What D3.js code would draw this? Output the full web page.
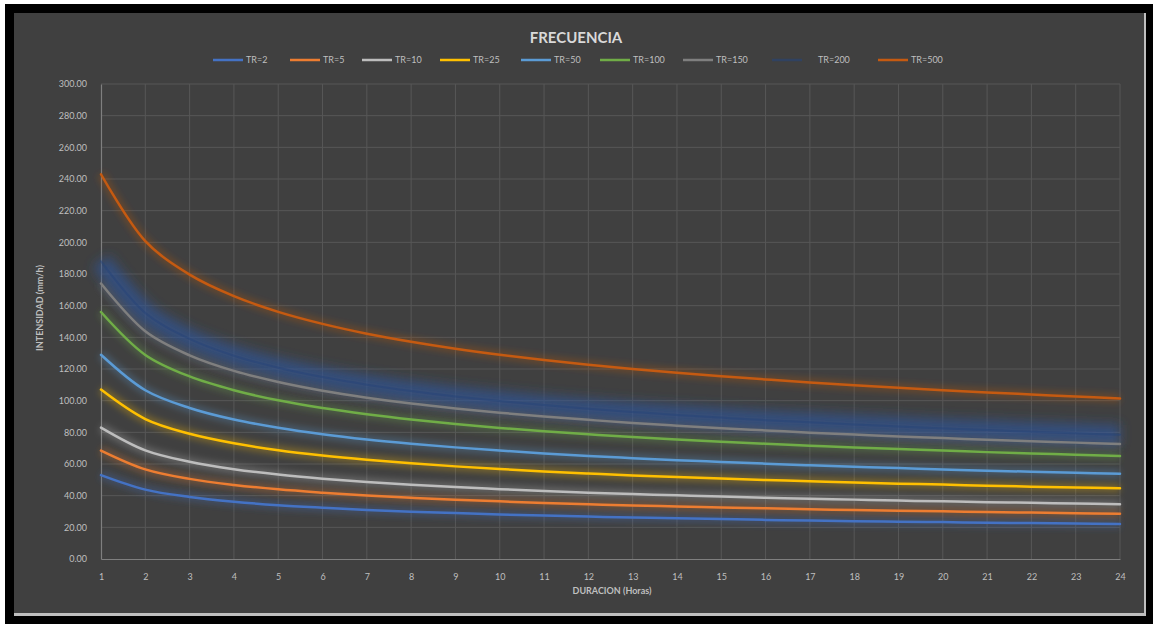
<!DOCTYPE html>
<html>
<head>
<meta charset="utf-8">
<script src="https://cdn.jsdelivr.net/npm/d3@7"></script>
<style>
  html, body { margin: 0; padding: 0; background: #ffffff; }
  svg { display: block; }
</style>
</head>
<body>
<script>
// Duration in hours (x axis)
const durations = [1,2,3,4,5,6,7,8,9,10,11,12,13,14,15,16,17,18,19,20,21,22,23,24];

// Intensity (mm/h) for each return period
const tr2   = [53.0,43.8,39.2,36.2,34.0,32.4,31.0,29.9,29.0,28.1,27.4,26.8,26.2,25.7,25.2,24.7,24.3,23.9,23.6,23.3,22.9,22.7,22.4,22.1];
const tr5   = [68.5,56.6,50.6,46.8,44.0,41.9,40.1,38.7,37.4,36.4,35.4,34.6,33.8,33.2,32.5,32.0,31.4,30.9,30.5,30.1,29.7,29.3,28.9,28.6];
const tr10  = [83.0,68.6,61.4,56.7,53.3,50.7,48.6,46.9,45.4,44.1,42.9,41.9,41.0,40.2,39.4,38.7,38.1,37.5,36.9,36.4,35.9,35.5,35.0,34.6];
const tr25  = [107.0,88.4,79.1,73.1,68.7,65.4,62.7,60.4,58.5,56.8,55.3,54.0,52.8,51.8,50.8,49.9,49.1,48.3,47.6,47.0,46.3,45.7,45.2,44.7];
const tr50  = [129.0,106.6,95.4,88.1,82.9,78.8,75.5,72.8,70.5,68.5,66.7,65.1,63.7,62.4,61.3,60.2,59.2,58.3,57.4,56.6,55.8,55.1,54.5,53.8];
const tr100 = [156.0,128.9,115.3,106.6,100.2,95.3,91.4,88.1,85.3,82.8,80.7,78.8,77.0,75.5,74.1,72.8,71.6,70.4,69.4,68.5,67.5,66.7,65.9,65.1];
const tr150 = [174.0,143.8,128.6,118.8,111.8,106.3,101.9,98.2,95.1,92.4,90.0,87.9,85.9,84.2,82.6,81.2,79.8,78.6,77.4,76.4,75.3,74.4,73.5,72.6];
const tr200 = [188.0,155.4,139.0,128.4,120.8,114.9,110.1,106.1,102.7,99.8,97.2,94.9,92.9,91.0,89.3,87.7,86.3,84.9,83.7,82.5,81.4,80.4,79.4,78.5];
const tr500 = [243.0,200.8,179.6,166.0,156.1,148.5,142.3,137.2,132.8,129.0,125.7,122.7,120.0,117.6,115.4,113.4,111.5,109.7,108.1,106.6,105.2,103.9,102.6,101.4];

const seriesNames = ["TR=2","TR=5","TR=10","TR=25","TR=50","TR=100","TR=150","TR=200","TR=500"];
const seriesValues = [tr2, tr5, tr10, tr25, tr50, tr100, tr150, tr200, tr500];
const seriesColors = ["#4472C4","#ED7D31","#BDBDBD","#FFC000","#5B9BD5","#70AD47","#7f7f7f","#264478","#C55A11"];

const yTicks = [0,20,40,60,80,100,120,140,160,180,200,220,240,260,280,300];

const W = 1153, H = 624;
const svg = d3.select("body").append("svg").attr("width", W).attr("height", H);

const defs = svg.append("defs");
defs.append("filter").attr("id", "glow").attr("x", "-5%").attr("y", "-20%").attr("width", "110%").attr("height", "140%")
  .append("feGaussianBlur").attr("stdDeviation", 3);
defs.append("filter").attr("id", "glowWide").attr("x", "-5%").attr("y", "-30%").attr("width", "110%").attr("height", "160%")
  .append("feGaussianBlur").attr("stdDeviation", 6);

// Frame: black border with a grey chart panel inside
svg.append("rect").attr("x", 5).attr("y", 4).attr("width", W - 5).attr("height", H - 4).attr("fill", "#000");
svg.append("rect").attr("x", 14).attr("y", 13).attr("width", 1132).attr("height", 603).attr("fill", "#bfbfbf");
svg.append("rect").attr("x", 14).attr("y", 13).attr("width", 1130).attr("height", 600).attr("fill", "#404040");

const font = "Lato, 'Open Sans', 'DejaVu Sans', sans-serif";

const x = d3.scaleLinear().domain([1, 24]).range([101, 1120]);
const y = d3.scaleLinear().domain([0, 300]).range([559, 84]);

// Gridlines
const grid = svg.append("g");
grid.selectAll("line.h").data(yTicks.slice(1)).join("line")
  .attr("x1", x(1)).attr("x2", x(24))
  .attr("y1", d => y(d)).attr("y2", d => y(d))
  .attr("stroke", "#575757").attr("stroke-width", 1);
grid.selectAll("line.v").data(durations.slice(1)).join("line")
  .attr("x1", d => x(d)).attr("x2", d => x(d))
  .attr("y1", y(300)).attr("y2", y(0))
  .attr("stroke", "#575757").attr("stroke-width", 1);

// Axes
const yAxis = d3.axisLeft(y).tickValues(yTicks).tickFormat(d => d.toFixed(2)).tickSize(0).tickPadding(14);
const gy = svg.append("g").attr("transform", `translate(${x(1)},0)`).call(yAxis);
const xAxis = d3.axisBottom(x).tickValues(durations).tickFormat(d3.format("d")).tickSize(0).tickPadding(15);
const gx = svg.append("g").attr("transform", `translate(0,${y(0)})`).call(xAxis);
[gx, gy].forEach(g => {
  g.select(".domain").attr("stroke", "#7f7f7f").attr("stroke-width", 1.2);
  g.selectAll("text").attr("fill", "#bfbfbf").style("font-family", font).style("font-size", "9px");
});

// Series
const line = d3.line()
  .x((d, i) => x(durations[i]))
  .y(d => y(d))
  .curve(d3.curveCatmullRom.alpha(0.5));

const lines = svg.append("g");
seriesValues.forEach((vals, k) => {
  const isTR200 = seriesNames[k] === "TR=200";
  lines.append("path").attr("d", line(vals))
    .attr("fill", "none")
    .attr("stroke", isTR200 ? "#2f5597" : seriesColors[k])
    .attr("stroke-width", isTR200 ? 20 : 9)
    .attr("stroke-opacity", isTR200 ? 0.7 : 0.28)
    .attr("filter", isTR200 ? "url(#glowWide)" : "url(#glow)");
});
seriesValues.forEach((vals, k) => {
  const isTR200 = seriesNames[k] === "TR=200";
  lines.append("path").attr("d", line(vals))
    .attr("fill", "none")
    .attr("stroke", seriesColors[k])
    .attr("stroke-width", isTR200 ? 2 : 2.5)
    .attr("stroke-opacity", isTR200 ? 0.5 : 1)
    .attr("stroke-linecap", "round");
});

// Title
svg.append("text").attr("x", 576).attr("y", 43).attr("text-anchor", "middle")
  .attr("fill", "#d9d9d9").style("font-family", font).style("font-size", "15px").style("font-weight", "bold")
  .text("FRECUENCIA");

// Legend
const legendX = [213, 290, 362, 440, 521, 600, 683, 772, 878];
const legend = svg.append("g");
seriesNames.forEach((name, k) => {
  const g = legend.append("g").attr("transform", `translate(${legendX[k]},60)`);
  g.append("line").attr("x1", 0).attr("x2", 30).attr("y1", 0).attr("y2", 0)
    .attr("stroke", seriesColors[k]).attr("stroke-width", 2.5)
    .attr("stroke-opacity", name === "TR=200" ? 0.6 : 1);
  g.append("text").attr("x", name === "TR=200" ? 46 : 33).attr("y", 3)
    .attr("fill", "#bfbfbf").style("font-family", font).style("font-size", "9px").text(name);
});

// Axis titles
svg.append("text").attr("x", 612).attr("y", 594).attr("text-anchor", "middle")
  .attr("fill", "#bfbfbf").style("font-family", font).style("font-size", "9px").style("font-weight", "bold")
  .text("DURACION (Horas)");
svg.append("text").attr("transform", "translate(43,308) rotate(-90)").attr("text-anchor", "middle")
  .attr("fill", "#bfbfbf").style("font-family", font).style("font-size", "9px").style("font-weight", "bold")
  .text("INTENSIDAD (mm/h)");
</script>
</body>
</html>
